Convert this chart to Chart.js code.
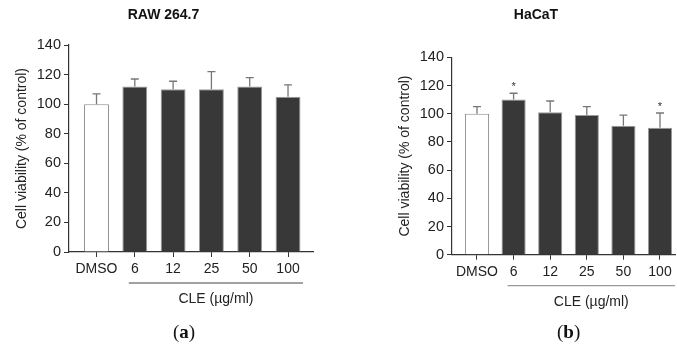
<!DOCTYPE html>
<html>
<head>
<meta charset="utf-8">
<script src="https://cdn.jsdelivr.net/npm/chart.js@4.4.1/dist/chart.umd.min.js"></script>
<style>
  body { margin: 0; background: #fff; width: 677px; height: 347px; position: relative; overflow: hidden; }
  .panel { position: absolute; top: 0; height: 347px; }
  .tag { position: absolute; top: 321px; font-family: "Liberation Serif", "DejaVu Serif", serif; font-size: 19px; color: #111; }
  .tag b { font-weight: bold; }
</style>
</head>
<body>
<div class="panel" style="left:0;width:340px"><canvas id="rawChart"></canvas></div>
<div class="panel" style="left:383px;width:294px"><canvas id="hacatChart"></canvas></div>
<div class="tag" style="left:173px">(<b>a</b>)</div>
<div class="tag" style="left:557px">(<b>b</b>)</div>

<script>
  // categories shared by both panels
  const doses = ['DMSO', '6', '12', '25', '50', '100'];
  const yTicks = [0, 20, 40, 60, 80, 100, 120, 140];

  // RAW 264.7
  const rawMeans = [100, 112, 110, 110, 112, 105];
  const rawErrors = [7, 5, 5.5, 12, 6, 8];
  const rawStars = [false, false, false, false, false, false];

  // HaCaT
  const hacatMeans = [100, 110, 101, 99, 91.5, 90];
  const hacatErrors = [5, 4.5, 8, 6, 7.5, 10.5];
  const hacatStars = [false, true, false, false, false, true];

  const axisColor = '#333';
  const sans = '"Liberation Sans", Arial, sans-serif';

  // error bars, stars and the CLE bracket under the dose labels
  const extrasPlugin = {
    id: 'extras',
    afterDatasetsDraw(chart, args, opts) {
      const ctx = chart.ctx;
      const xs = chart.scales.x;
      const ys = chart.scales.y;
      ctx.save();
      opts.means.forEach((m, i) => {
        const x = xs.getPixelForValue(i);
        const yBar = ys.getPixelForValue(m);
        const yTop = ys.getPixelForValue(m + opts.errors[i]);
        ctx.strokeStyle = '#777';
        ctx.lineWidth = 1.3;
        ctx.beginPath();
        ctx.moveTo(x, yBar);
        ctx.lineTo(x, yTop);
        ctx.moveTo(x - 4, yTop);
        ctx.lineTo(x + 4, yTop);
        ctx.stroke();
        if (opts.stars[i]) {
          ctx.fillStyle = '#333';
          ctx.font = '11px ' + sans;
          ctx.textAlign = 'center';
          ctx.textBaseline = 'middle';
          ctx.fillText('*', x, yTop - 6);
        }
      });
      // bracket for the CLE doses
      const x1 = xs.getPixelForValue(1) - 6;
      const x2 = xs.getPixelForValue(doses.length - 1) + 15;
      const yLine = xs.top + 31;
      ctx.strokeStyle = opts.bracketColor;
      ctx.lineWidth = 1.2;
      ctx.beginPath();
      ctx.moveTo(x1, yLine);
      ctx.lineTo(x2, yLine);
      ctx.stroke();
      ctx.fillStyle = '#222';
      ctx.font = '14px ' + sans;
      ctx.textAlign = 'center';
      ctx.textBaseline = 'middle';
      ctx.fillText('CLE (µg/ml)', (x1 + x2) / 2, yLine + 16);
      ctx.restore();
    }
  };

  function makePanel(id, title, means, errors, stars, cfg) {
    const ctx = document.getElementById(id).getContext('2d');
    return new Chart(ctx, {
      type: 'bar',
      data: {
        datasets: [{
          data: means.map((v, i) => ({ x: i, y: v })),
          backgroundColor: means.map((v, i) => i === 0 ? '#ffffff' : '#383838'),
          borderColor: means.map((v, i) => i === 0 ? '#8a8a8a' : '#9a9a9a'),
          borderWidth: 1,
          categoryPercentage: 1,
          barPercentage: cfg.barPct
        }]
      },
      options: {
        responsive: true,
        maintainAspectRatio: false,
        animation: false,
        layout: { padding: { left: 14, right: cfg.padRight, top: 0, bottom: 0 } },
        plugins: {
          legend: { display: false },
          tooltip: { enabled: false },
          title: {
            display: true,
            text: title,
            color: '#111',
            font: { family: sans, size: 14, weight: 'bold' },
            padding: { top: 6.6, bottom: cfg.titleGap }
          },
          extras: { means: means, errors: errors, stars: stars, bracketColor: cfg.bracketColor }
        },
        scales: {
          x: {
            type: 'linear',
            offset: false,
            min: cfg.xMin,
            max: cfg.xMax,
            afterBuildTicks: s => { s.ticks = doses.map((d, i) => ({ value: i })); },
            afterFit: s => { s.height = cfg.xHeight; },
            grid: { offset: false, drawOnChartArea: false, drawTicks: true, tickLength: 5, color: axisColor },
            border: { color: axisColor, width: 1.2 },
            ticks: {
              autoSkip: false,
              maxRotation: 0,
              padding: 4,
              color: '#222',
              font: { family: sans, size: 14 },
              callback: v => doses[v]
            }
          },
          y: {
            min: 0,
            max: 140,
            afterBuildTicks: s => { s.ticks = yTicks.map(v => ({ value: v })); },
            afterFit: s => { s.width = 55; },
            grid: { drawOnChartArea: false, drawTicks: true, tickLength: 5, color: axisColor },
            border: { color: axisColor, width: 1.2 },
            ticks: {
              padding: 3,
              color: '#222',
              font: { family: sans, size: 14.5 }
            },
            title: {
              display: true,
              text: 'Cell viability (% of control)',
              color: '#222',
              font: { family: sans, size: 14 },
              padding: { top: 0, bottom: 0 }
            }
          }
        }
      },
      plugins: [extrasPlugin]
    });
  }

  makePanel('rawChart', 'RAW 264.7', rawMeans, rawErrors, rawStars, {
    barPct: 0.65, padRight: 27, titleGap: 21.6, xHeight: 95,
    xMin: -0.718, xMax: 5.652, bracketColor: '#444'
  });
  makePanel('hacatChart', 'HaCaT', hacatMeans, hacatErrors, hacatStars, {
    barPct: 0.66, padRight: 2, titleGap: 33.9, xHeight: 92.3,
    xMin: -0.683, xMax: 5.41, bracketColor: '#999'
  });
</script>
</body>
</html>
